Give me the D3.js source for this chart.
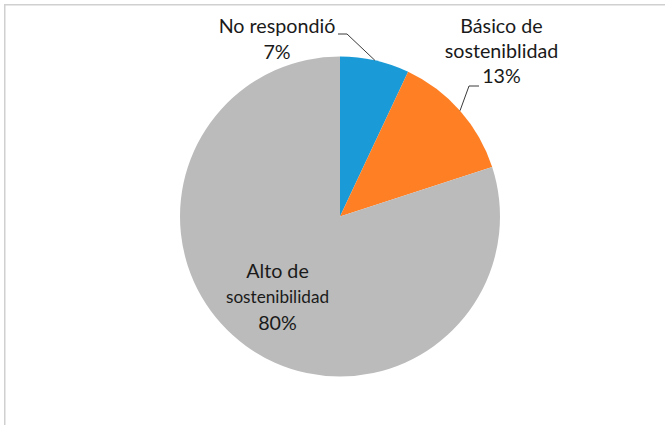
<!DOCTYPE html>
<html>
<head>
<meta charset="utf-8">
<script src="https://cdn.jsdelivr.net/npm/d3@7"></script>
<style>
  html, body { margin: 0; padding: 0; background: #fff; }
  svg { display: block; }
</style>
</head>
<body>
<svg id="chart" width="665" height="425"></svg>
<script>
// Survey result: level of sustainability reported
const categories = ["No respondió", "Básico de sosteniblidad", "Alto de sostenibilidad"];
const values = [7, 13, 80];
const colors = ["#1a9bd7", "#fe7f24", "#bbbbbb"];
// Label text, split into lines (the percentage line is appended from values)
const labelLines = [["No respondió"], ["Básico de", "sosteniblidad"], ["Alto de", "sostenibilidad"]];

const W = 665, H = 425;
const svg = d3.select("#chart");
const fontFamily = "Lato, 'Open Sans', 'Liberation Sans', sans-serif";

// Chart frame
svg.append("rect")
  .attr("x", 4.75).attr("y", 4.75)
  .attr("width", W + 10).attr("height", H + 10)
  .attr("fill", "#fff")
  .attr("stroke", "#d0d0d0")
  .attr("stroke-width", 1.5);

const cx = 340, cy = 216.5, r = 160;
const g = svg.append("g").attr("transform", `translate(${cx},${cy})`);

const pie = d3.pie().sort(null).value(d => d);
const arcs = pie(values);
const arc = d3.arc().innerRadius(0).outerRadius(r);

g.selectAll("path.slice")
  .data(arcs)
  .join("path")
  .attr("class", "slice")
  .attr("d", arc)
  .attr("fill", (d, i) => colors[i]);

// Scale factor so the fallback font occupies the same width as the original face
const probe = svg.append("text").attr("font-family", fontFamily).attr("font-size", 100).text("sostenibilidad");
const fontScale = 563.7 / probe.node().getComputedTextLength();
probe.remove();

const pct = d3.format(".0%");
const pointOnArc = a => {
  const m = (a.startAngle + a.endAngle) / 2;
  return [cx + r * Math.sin(m), cy - r * Math.cos(m)];
};

// Leader lines for the two small slices
const leaders = [
  { i: 0, pts: [[338, 34], [347, 34]] },
  { i: 1, pts: [[479, 86], [469, 86]] }
];
svg.selectAll("path.leader")
  .data(leaders)
  .join("path")
  .attr("class", "leader")
  .attr("d", d => d3.line()(d.pts.concat([pointOnArc(arcs[d.i])])))
  .attr("fill", "none")
  .attr("stroke", "#3a3a3a")
  .attr("stroke-width", 1);

// Label layout: centre x and baseline of each line, with size per line
const labelLayout = [
  { x: 277, lines: [{ y: 33, s: 21 }, { y: 59, s: 21 }] },
  { x: 501.5, lines: [{ y: 33.3, s: 21 }, { y: 57.5, s: 21 }, { y: 82.7, s: 21 }] },
  { x: 277.5, lines: [{ y: 278.3, s: 21 }, { y: 303.3, s: 18.3 }, { y: 330, s: 21 }] }
];

const total = d3.sum(values);
labelLines.forEach((lines, i) => {
  const texts = lines.concat([pct(values[i] / total)]);
  const lay = labelLayout[i];
  texts.forEach((t, j) => {
    svg.append("text")
      .attr("x", lay.x)
      .attr("y", lay.lines[j].y)
      .attr("text-anchor", "middle")
      .attr("font-family", fontFamily)
      .attr("font-size", lay.lines[j].s * fontScale)
      .attr("fill", "#1a1a1a")
      .text(t);
  });
});
</script>
</body>
</html>
